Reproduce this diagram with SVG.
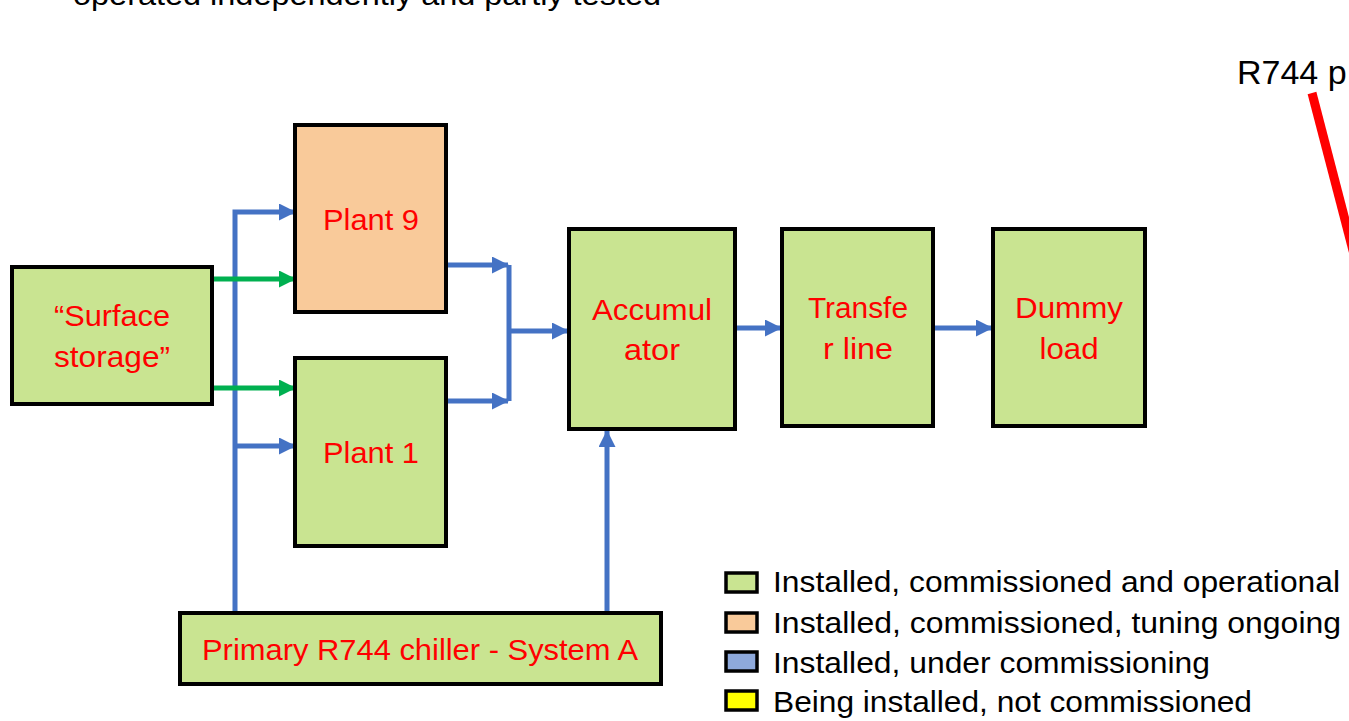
<svg xmlns="http://www.w3.org/2000/svg" width="1349" height="721" viewBox="0 0 1349 721">
<defs>
<style>
.box{stroke:#000;stroke-width:4}
.g{fill:#C9E491}
.o{fill:#F9CA9A}
.lbl{font-family:"Liberation Sans",Arial,sans-serif;font-size:29px;fill:#FF0000;text-anchor:middle}
.blk{font-family:"Liberation Sans",Arial,sans-serif;font-size:29px;fill:#000}
.bl{stroke:#4472C4;stroke-width:5;fill:none}
.gr{stroke:#00B050;stroke-width:5;fill:none}
.lg{stroke:#000;stroke-width:3.5}
</style>
<marker id="ab" markerUnits="userSpaceOnUse" markerWidth="17" markerHeight="17" refX="16" refY="8.5" orient="auto" viewBox="0 0 17 17">
<path d="M0,0 L17,8.5 L0,17 z" fill="#4472C4"/>
</marker>
<marker id="ag" markerUnits="userSpaceOnUse" markerWidth="17" markerHeight="17" refX="16" refY="8.5" orient="auto" viewBox="0 0 17 17">
<path d="M0,0 L17,8.5 L0,17 z" fill="#00B050"/>
</marker>
</defs>
<rect width="1349" height="721" fill="#fff"/>
<text class="blk" x="73" y="5" textLength="588" lengthAdjust="spacingAndGlyphs">operated independently and partly tested</text>
<text class="blk" x="1237" y="84" style="font-size:34px">R744 p</text>
<line x1="1312" y1="93" x2="1362" y2="285" stroke="#FF0000" stroke-width="9"/>

<g id="connectors">
<path class="bl" d="M235,611 V212 H295" marker-end="url(#ab)"/>
<path class="bl" d="M235,446 H295" marker-end="url(#ab)"/>
<path class="gr" d="M213,279 H295" marker-end="url(#ag)"/>
<path class="gr" d="M213,388 H295" marker-end="url(#ag)"/>
<path class="bl" d="M447,265 H508" marker-end="url(#ab)"/>
<path class="bl" d="M447,401 H508" marker-end="url(#ab)"/>
<path class="bl" d="M509,265 V401"/>
<path class="bl" d="M509,331 H568" marker-end="url(#ab)"/>
<path class="bl" d="M736,328 H781" marker-end="url(#ab)"/>
<path class="bl" d="M934,328 H992" marker-end="url(#ab)"/>
<path class="bl" d="M607,611 V431" marker-end="url(#ab)"/>
</g>

<g id="surface-storage">
<rect class="box g" x="12" y="267" width="200" height="137"/>
<text class="lbl" x="112" y="326" textLength="116" lengthAdjust="spacingAndGlyphs">“Surface</text>
<text class="lbl" x="112" y="367" textLength="116" lengthAdjust="spacingAndGlyphs">storage”</text>
</g>
<g id="plant9">
<rect class="box o" x="295" y="125" width="151" height="187"/>
<text class="lbl" x="371" y="230" textLength="96" lengthAdjust="spacingAndGlyphs">Plant 9</text>
</g>
<g id="plant1">
<rect class="box g" x="295" y="358" width="151" height="188"/>
<text class="lbl" x="371" y="463" textLength="96" lengthAdjust="spacingAndGlyphs">Plant 1</text>
</g>
<g id="accumulator">
<rect class="box g" x="569" y="229" width="166" height="200"/>
<text class="lbl" x="652" y="320" textLength="120" lengthAdjust="spacingAndGlyphs">Accumul</text>
<text class="lbl" x="652" y="360" textLength="56" lengthAdjust="spacingAndGlyphs">ator</text>
</g>
<g id="transfer-line">
<rect class="box g" x="782" y="229" width="151" height="197"/>
<text class="lbl" x="858" y="318" textLength="100" lengthAdjust="spacingAndGlyphs">Transfe</text>
<text class="lbl" x="858" y="359" textLength="70" lengthAdjust="spacingAndGlyphs">r line</text>
</g>
<g id="dummy-load">
<rect class="box g" x="993" y="229" width="152" height="197"/>
<text class="lbl" x="1069" y="318" textLength="108" lengthAdjust="spacingAndGlyphs">Dummy</text>
<text class="lbl" x="1069" y="359" textLength="59" lengthAdjust="spacingAndGlyphs">load</text>
</g>
<g id="chiller">
<rect class="box g" x="180" y="613" width="481" height="71"/>
<text class="lbl" x="420" y="660" textLength="436" lengthAdjust="spacingAndGlyphs">Primary R744 chiller - System A</text>
</g>

<g id="legend">
<rect class="lg" x="726" y="573" width="31" height="19" fill="#C9E491"/>
<rect class="lg" x="726" y="613" width="31" height="19" fill="#F9CA9A"/>
<rect class="lg" x="726" y="652" width="31" height="19" fill="#8EA9DB"/>
<rect class="lg" x="726" y="691" width="31" height="19" fill="#FFFF00"/>
<text class="blk" x="773" y="592" textLength="567" lengthAdjust="spacingAndGlyphs">Installed, commissioned and operational</text>
<text class="blk" x="773" y="633" textLength="568" lengthAdjust="spacingAndGlyphs">Installed, commissioned, tuning ongoing</text>
<text class="blk" x="773" y="673" textLength="437" lengthAdjust="spacingAndGlyphs">Installed, under commissioning</text>
<text class="blk" x="773" y="712" textLength="479" lengthAdjust="spacingAndGlyphs">Being installed, not commissioned</text>
</g>
</svg>
